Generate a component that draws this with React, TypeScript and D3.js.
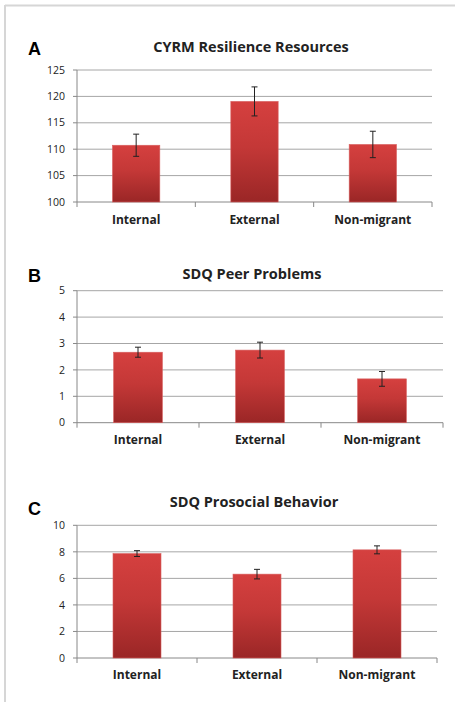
import React from "react";
import * as d3 from "d3";

const categories = ["Internal", "External", "Non-migrant"];

const cyrmMeans = [110.75, 119.05, 110.9];
const cyrmErr = [2.1, 2.75, 2.5];
const cyrmTicks = [100, 105, 110, 115, 120, 125];

const peerMeans = [2.67, 2.75, 1.66];
const peerErr = [0.19, 0.3, 0.28];
const peerTicks = [0, 1, 2, 3, 4, 5];

const prosocialMeans = [7.87, 6.32, 8.15];
const prosocialErr = [0.22, 0.36, 0.3];
const prosocialTicks = [0, 2, 4, 6, 8, 10];

const titles = ["CYRM Resilience Resources", "SDQ Peer Problems", "SDQ Prosocial Behavior"];
const letters = ["A", "B", "C"];

type Panel = {
  means: number[];
  errs: number[];
  ticks: number[];
  title: string;
  letter: string;
  x0: number;
  x1: number;
  yTop: number;
  yBot: number;
  titleX: number;
  titleY: number;
  letterY: number;
  labelY: number;
};

const panels: Panel[] = [
  { means: cyrmMeans, errs: cyrmErr, ticks: cyrmTicks, title: titles[0], letter: letters[0],
    x0: 77, x1: 432, yTop: 70, yBot: 202, titleX: 251, titleY: 52, letterY: 55, labelY: 224 },
  { means: peerMeans, errs: peerErr, ticks: peerTicks, title: titles[1], letter: letters[1],
    x0: 77, x1: 443, yTop: 290.7, yBot: 422.7, titleX: 252, titleY: 278.5, letterY: 282, labelY: 444 },
  { means: prosocialMeans, errs: prosocialErr, ticks: prosocialTicks, title: titles[2], letter: letters[2],
    x0: 77, x1: 437, yTop: 525.3, yBot: 658, titleX: 254, titleY: 507, letterY: 515, labelY: 679 },
];

const FONT = "'Open Sans', 'Liberation Sans', sans-serif";

function ChartPanel({ p, idx }: { p: Panel; idx: number }) {
  const y = d3.scaleLinear().domain([p.ticks[0], p.ticks[p.ticks.length - 1]]).range([p.yBot, p.yTop]);
  const x = d3.scaleBand().domain(categories).range([p.x0, p.x1]).padding(0);
  const bw = x.bandwidth() * 0.4;
  const boundaries = [p.x0, ...categories.map((c) => (x(c) as number) + x.bandwidth())];
  const gid = `grad${idx}`;
  return (
    <g>
      <defs>
        <linearGradient id={gid} x1="0" y1="0" x2="0" y2="1">
          <stop offset="0%" stopColor="#d5403f" />
          <stop offset="45%" stopColor="#c43837" />
          <stop offset="100%" stopColor="#9a2626" />
        </linearGradient>
      </defs>
      <text x={28} y={p.letterY} fontFamily="'Liberation Sans', Arial, sans-serif" fontWeight="bold" fontSize={18} fill="#000">
        {p.letter}
      </text>
      <text x={p.titleX} y={p.titleY} textAnchor="middle" fontFamily={FONT} fontWeight="bold" fontSize={14.5} fill="#222">
        {p.title}
      </text>
      {p.ticks.map((t) => (
        <g key={t}>
          {t !== p.ticks[0] && (
            <line x1={p.x0} x2={p.x1} y1={y(t)} y2={y(t)} stroke="#a6a6a6" strokeWidth={1} />
          )}
          <line x1={p.x0 - 4} x2={p.x0} y1={y(t)} y2={y(t)} stroke="#888" strokeWidth={1} />
          <text x={65} y={y(t)} dy="0.35em" textAnchor="end" fontFamily={FONT} fontSize={10.5} fill="#222">
            {t}
          </text>
        </g>
      ))}
      <line x1={p.x0} x2={p.x0} y1={p.yTop} y2={p.yBot} stroke="#888" strokeWidth={1} />
      <line x1={p.x0} x2={p.x1} y1={p.yBot} y2={p.yBot} stroke="#888" strokeWidth={1} />
      {boundaries.map((bx, i) => (
        <line key={i} x1={bx} x2={bx} y1={p.yBot} y2={p.yBot + 5} stroke="#888" strokeWidth={1} />
      ))}
      {categories.map((c, i) => {
        const cx = (x(c) as number) + x.bandwidth() / 2;
        const top = y(p.means[i]);
        const eTop = y(p.means[i] + p.errs[i]);
        const eBot = y(p.means[i] - p.errs[i]);
        return (
          <g key={c}>
            <rect x={cx - bw / 2} y={top} width={bw} height={p.yBot - top} fill={`url(#${gid})`} stroke="#d86060" strokeWidth={0.6} />
            <line x1={cx} x2={cx} y1={eTop} y2={eBot} stroke="#222" strokeWidth={1} />
            <line x1={cx - 3} x2={cx + 3} y1={eTop} y2={eTop} stroke="#222" strokeWidth={1} />
            <line x1={cx - 3} x2={cx + 3} y1={eBot} y2={eBot} stroke="#222" strokeWidth={1} />
            <text x={cx} y={p.labelY} textAnchor="middle" fontFamily={FONT} fontWeight="bold" fontSize={12} fill="#222">
              {c}
            </text>
          </g>
        );
      })}
    </g>
  );
}

export default function App() {
  return (
    <svg width={456} height={702} style={{ position: "absolute", left: 0, top: 0, background: "#fff" }}>
      <rect x={0} y={0} width={456} height={702} fill="#fff" />
      <line x1={5} x2={455} y1={5.5} y2={5.5} stroke="#d6d6d6" strokeWidth={2} />
      <line x1={5} x2={5} y1={5} y2={702} stroke="#d6d6d6" strokeWidth={2} />
      {panels.map((p, i) => (
        <ChartPanel key={i} p={p} idx={i} />
      ))}
    </svg>
  );
}
